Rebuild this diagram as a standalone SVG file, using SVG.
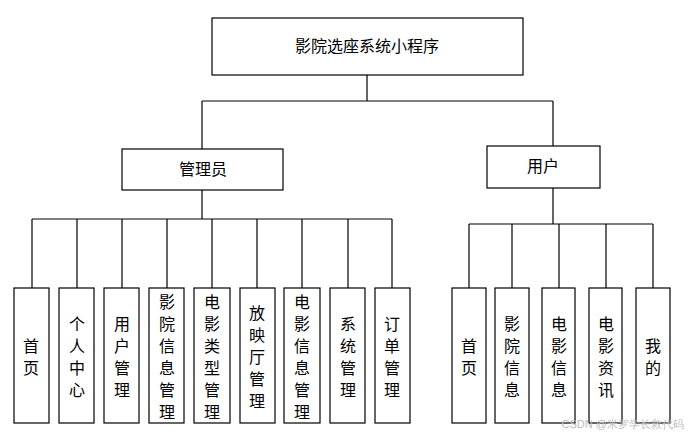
<svg xmlns="http://www.w3.org/2000/svg" width="688" height="438" viewBox="0 0 688 438">
<style>
.b{fill:#fff;stroke:#000;stroke-width:1.2}
.t{font-family:"Noto Sans CJK SC",sans-serif;font-size:16px;text-anchor:middle;fill:#000}
.c{stroke:#000;stroke-width:1.2;fill:none}
</style>
<rect width="688" height="438" fill="#fff"/>
<g id="connectors">
<path class="c" d="M367 75V101M202 101H553M202 101V149M553 101V146"/>
<path class="c" d="M202 190V219M32 219H392M32 219V288M77 219V288M122 219V288M167 219V288M212 219V288M257 219V288M302 219V288M348 219V288M392 219V288"/>
<path class="c" d="M553 188V224M469 224H653M469 224V288M512 224V288M559 224V288M606 224V288M653 224V288"/>
</g>
<g id="root"><rect class="b" x="212" y="18" width="311" height="57"/><text class="t" x="367" y="52" font-size="17">影院选座系统小程序</text></g>
<g id="admin"><rect class="b" x="122" y="149" width="161" height="41"/><text class="t" x="203" y="175">管理员</text></g>
<g id="user"><rect class="b" x="487" y="146" width="113" height="42"/><text class="t" x="543" y="172">用户</text></g>
<g id="a1"><rect class="b" x="14" y="288" width="35" height="135"/><text class="t"><tspan x="31" y="352">首</tspan><tspan x="31" y="374">页</tspan></text></g>
<g id="a2"><rect class="b" x="59" y="288" width="35" height="135"/><text class="t"><tspan x="77" y="330">个</tspan><tspan x="77" y="352">人</tspan><tspan x="77" y="374">中</tspan><tspan x="77" y="396">心</tspan></text></g>
<g id="a3"><rect class="b" x="104" y="288" width="35" height="135"/><text class="t"><tspan x="122" y="330">用</tspan><tspan x="122" y="352">户</tspan><tspan x="122" y="374">管</tspan><tspan x="122" y="396">理</tspan></text></g>
<g id="a4"><rect class="b" x="149" y="288" width="35" height="135"/><text class="t"><tspan x="167" y="308">影</tspan><tspan x="167" y="330">院</tspan><tspan x="167" y="352">信</tspan><tspan x="167" y="374">息</tspan><tspan x="167" y="396">管</tspan><tspan x="167" y="418">理</tspan></text></g>
<g id="a5"><rect class="b" x="194" y="288" width="36" height="135"/><text class="t"><tspan x="212" y="308">电</tspan><tspan x="212" y="330">影</tspan><tspan x="212" y="352">类</tspan><tspan x="212" y="374">型</tspan><tspan x="212" y="396">管</tspan><tspan x="212" y="418">理</tspan></text></g>
<g id="a6"><rect class="b" x="240" y="288" width="35" height="135"/><text class="t"><tspan x="257" y="319">放</tspan><tspan x="257" y="341">映</tspan><tspan x="257" y="363">厅</tspan><tspan x="257" y="385">管</tspan><tspan x="257" y="407">理</tspan></text></g>
<g id="a7"><rect class="b" x="284" y="288" width="36" height="135"/><text class="t"><tspan x="302" y="308">电</tspan><tspan x="302" y="330">影</tspan><tspan x="302" y="352">信</tspan><tspan x="302" y="374">息</tspan><tspan x="302" y="396">管</tspan><tspan x="302" y="418">理</tspan></text></g>
<g id="a8"><rect class="b" x="330" y="288" width="35" height="135"/><text class="t"><tspan x="348" y="330">系</tspan><tspan x="348" y="352">统</tspan><tspan x="348" y="374">管</tspan><tspan x="348" y="396">理</tspan></text></g>
<g id="a9"><rect class="b" x="375" y="288" width="35" height="135"/><text class="t"><tspan x="392" y="330">订</tspan><tspan x="392" y="352">单</tspan><tspan x="392" y="374">管</tspan><tspan x="392" y="396">理</tspan></text></g>
<g id="u1"><rect class="b" x="452" y="288" width="34" height="135"/><text class="t"><tspan x="469" y="352">首</tspan><tspan x="469" y="374">页</tspan></text></g>
<g id="u2"><rect class="b" x="495" y="288" width="34" height="135"/><text class="t"><tspan x="512" y="330">影</tspan><tspan x="512" y="352">院</tspan><tspan x="512" y="374">信</tspan><tspan x="512" y="396">息</tspan></text></g>
<g id="u3"><rect class="b" x="542" y="288" width="33" height="135"/><text class="t"><tspan x="559" y="330">电</tspan><tspan x="559" y="352">影</tspan><tspan x="559" y="374">信</tspan><tspan x="559" y="396">息</tspan></text></g>
<g id="u4"><rect class="b" x="589" y="288" width="33" height="135"/><text class="t"><tspan x="606" y="330">电</tspan><tspan x="606" y="352">影</tspan><tspan x="606" y="374">资</tspan><tspan x="606" y="396">讯</tspan></text></g>
<g id="u5"><rect class="b" x="636" y="288" width="34" height="135"/><text class="t"><tspan x="653" y="352">我</tspan><tspan x="653" y="374">的</tspan></text></g>
<text x="684" y="428" font-family="Liberation Sans,sans-serif" font-size="11" fill="#bbb" text-anchor="end">CSDN @米罗学长救代码</text>
</svg>
